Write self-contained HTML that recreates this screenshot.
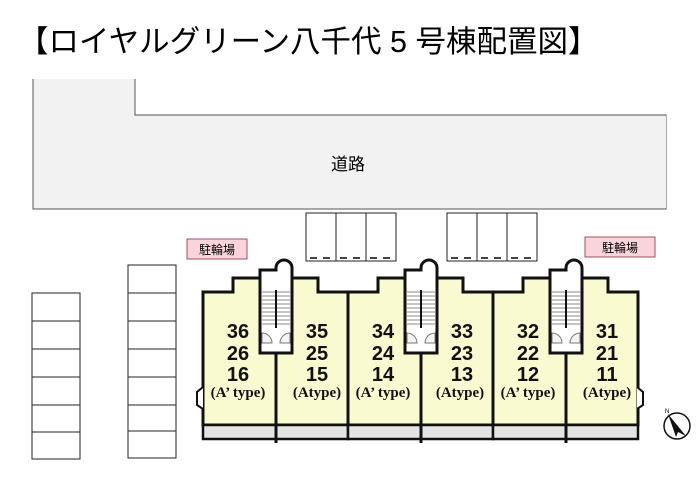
<!DOCTYPE html>
<html><head><meta charset="utf-8"><style>
html,body{margin:0;padding:0;background:#fff;}
svg{display:block;}
</style></head><body>
<svg width="700" height="479" viewBox="0 0 700 479" xmlns="http://www.w3.org/2000/svg">
<text x="18" y="52" font-family="'Liberation Sans','Noto Sans CJK JP',sans-serif" font-size="30.5" fill="#000">【ロイヤルグリーン八千代 5 号棟配置図】</text>
<!-- road -->
<path d="M33,79 L33,209 L666,209 L666,115 L135,115 L135,79" fill="#f2f2f2" stroke="#555" stroke-width="1"/>
<rect x="34" y="116" width="632" height="92" fill="#f2f2f2"/>
<text x="348" y="170" font-family="'Liberation Sans','Noto Sans CJK JP',sans-serif" font-size="17" text-anchor="middle">道路</text>
<!-- top parking -->
<g fill="#fff" stroke="#222" stroke-width="1">
<rect x="306" y="213" width="30" height="48"/><rect x="336" y="213" width="30" height="48"/><rect x="366" y="213" width="30" height="48"/>
<rect x="447" y="213" width="30" height="48"/><rect x="477" y="213" width="30" height="48"/><rect x="507" y="213" width="30" height="48"/>
</g>
<g fill="#444">
<rect x="310" y="257" width="7" height="2"/><rect x="323" y="257" width="7" height="2"/><rect x="340" y="257" width="7" height="2"/><rect x="353" y="257" width="7" height="2"/><rect x="370" y="257" width="7" height="2"/><rect x="383" y="257" width="7" height="2"/>
<rect x="451" y="257" width="7" height="2"/><rect x="464" y="257" width="7" height="2"/><rect x="481" y="257" width="7" height="2"/><rect x="494" y="257" width="7" height="2"/><rect x="511" y="257" width="7" height="2"/><rect x="524" y="257" width="7" height="2"/>
</g>
<!-- bike labels -->
<rect x="187" y="239" width="60" height="20" fill="#f9d4dc" stroke="#a05060" stroke-width="1"/>
<text x="217" y="254" font-family="'Liberation Sans','Noto Sans CJK JP',sans-serif" font-size="12" text-anchor="middle">駐輪場</text>
<rect x="585" y="237" width="70" height="20" fill="#f9d4dc" stroke="#a05060" stroke-width="1"/>
<text x="620" y="252" font-family="'Liberation Sans','Noto Sans CJK JP',sans-serif" font-size="12" text-anchor="middle">駐輪場</text>
<!-- left parking columns -->
<g fill="#fff" stroke="#222" stroke-width="1">
<rect x="32" y="293" width="48" height="28"/><rect x="32" y="321" width="48" height="28"/><rect x="32" y="349" width="48" height="28"/><rect x="32" y="377" width="48" height="28"/><rect x="32" y="405" width="48" height="27"/><rect x="32" y="432" width="48" height="27"/>
<rect x="128" y="265" width="48" height="28"/><rect x="128" y="293" width="48" height="28"/><rect x="128" y="321" width="48" height="28"/><rect x="128" y="349" width="48" height="28"/><rect x="128" y="377" width="48" height="28"/><rect x="128" y="405" width="48" height="26"/><rect x="128" y="431" width="48" height="27"/>
</g>
<!-- building -->
<g id="pair">
<path d="M203,292 L233,292 L233,278 L318,278 L318,292 L348,292 L348,425 L203,425 Z" fill="#fafad0" stroke="#111" stroke-width="3"/>
<rect x="203" y="425" width="145" height="14" fill="#e4e4e4" stroke="#111" stroke-width="2.5"/>
<line x1="276" y1="352" x2="276" y2="443" stroke="#111" stroke-width="3"/>
<path d="M260,353 L260,270 L276,270 L276,268 A8,8 0 0 1 292,268 L292,353 Z" fill="#fff" stroke="#111" stroke-width="3"/>
<g stroke="#888" stroke-width="1">
<line x1="262" y1="292" x2="290" y2="292"/><line x1="262" y1="296" x2="290" y2="296"/><line x1="262" y1="300" x2="290" y2="300"/><line x1="262" y1="304" x2="290" y2="304"/><line x1="262" y1="308" x2="290" y2="308"/><line x1="262" y1="312" x2="290" y2="312"/><line x1="262" y1="316" x2="290" y2="316"/><line x1="262" y1="320" x2="290" y2="320"/><line x1="262" y1="324" x2="290" y2="324"/>
</g>
<line x1="276" y1="290" x2="276" y2="328" stroke="#111" stroke-width="2"/>
<path d="M262,333 A10,10 0 0 1 272,343 L262,343 Z M290,333 A10,10 0 0 0 280,343 L290,343 Z" fill="#f4f4f4" stroke="#777" stroke-width="1"/>
</g>
<use href="#pair" x="145"/>
<use href="#pair" x="290"/>
<!-- bays -->
<path d="M203,387 L197,392 L197,405 L203,409" fill="#fff" stroke="#111" stroke-width="2"/>
<path d="M637,387 L643,392 L643,405 L637,409" fill="#fff" stroke="#111" stroke-width="2"/>
<!-- labels -->
<g font-family="'Liberation Sans','DejaVu Sans',sans-serif" font-weight="bold" font-size="20" text-anchor="middle" fill="#111">
<text x="238" y="338">36</text><text x="238" y="360">26</text><text x="238" y="381">16</text>
<text x="317" y="338">35</text><text x="317" y="360">25</text><text x="317" y="381">15</text>
<text x="383" y="338">34</text><text x="383" y="360">24</text><text x="383" y="381">14</text>
<text x="462" y="338">33</text><text x="462" y="360">23</text><text x="462" y="381">13</text>
<text x="528" y="338">32</text><text x="528" y="360">22</text><text x="528" y="381">12</text>
<text x="607" y="338">31</text><text x="607" y="360">21</text><text x="607" y="381">11</text>
</g>
<g font-family="'Liberation Serif',serif" font-weight="bold" font-size="15" text-anchor="middle" fill="#111">
<text x="238" y="397">(A’ type)</text><text x="317" y="397">(Atype)</text>
<text x="383" y="397">(A’ type)</text><text x="460" y="397">(Atype)</text>
<text x="528" y="397">(A’ type)</text><text x="607" y="397">(Atype)</text>
</g>
<!-- compass -->
<circle cx="677" cy="426" r="13" fill="#fff" stroke="#111" stroke-width="1.5"/>
<path d="M668,414 L686,436 L678,432 L676,437 Z" fill="#111"/>
<text x="665" y="413" font-family="'Liberation Sans',sans-serif" font-size="6">N</text>
</svg>
</body></html>
